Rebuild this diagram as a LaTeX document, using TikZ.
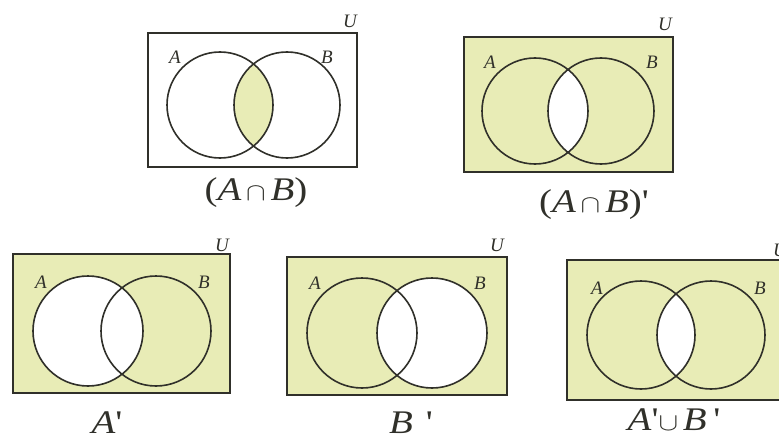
\documentclass[tikz,border=0pt]{standalone}
\usepackage{fontspec}
\setmainfont{Liberation Serif}
\definecolor{venn}{HTML}{E8ECB6}
\definecolor{ink}{HTML}{30302A}
\newcommand{\pr}{{\upshape\textquotesingle}}
\newcommand{\wide}[1]{\scalebox{1.18}[1]{#1}}
\begin{document}
\begin{tikzpicture}[x=1pt,y=-1pt,
  border/.style={draw=ink,line width=1.1pt},
  ring/.style={draw=ink,line width=1.6pt},
  setlabel/.style={text=ink,font=\fontsize{19}{19}\selectfont\itshape,inner sep=0pt},
  caption/.style={text=ink,font=\fontsize{33}{33}\selectfont\itshape,inner sep=0pt}]
\useasboundingbox (0,0) rectangle (779,441);
\clip (0,0) rectangle (779,441);
% ---------- 1: A cap B
\coordinate (a1) at (220,105); \coordinate (b1) at (287,105);
\fill[white] (148,33) rectangle (357,167);
\begin{scope}\clip (a1) circle[radius=53]; \fill[venn] (b1) circle[radius=53];\end{scope}
\draw[border] (148,33) rectangle (357,167);
\draw[ring] (a1) circle[radius=53] (b1) circle[radius=53];
\node[setlabel] (la1) at (175,57) {A};
\node[setlabel] (lb1) at (327,57) {B};
\node[setlabel] (lu1) at (350,21) {U};
\node[caption] (c1) at (256,193) {\wide{{\upshape(}A$\,\cap\,$B{\upshape)}}};
% ---------- 2: (A cap B)'
\coordinate (a2) at (535,111); \coordinate (b2) at (601,111);
\fill[venn] (464,37) rectangle (673,172);
\begin{scope}\clip (a2) circle[radius=53]; \fill[white] (b2) circle[radius=53];\end{scope}
\draw[border] (464,37) rectangle (673,172);
\draw[ring] (a2) circle[radius=53] (b2) circle[radius=53];
\node[setlabel] (la2) at (490,62) {A};
\node[setlabel] (lb2) at (652,62) {B};
\node[setlabel] (lu2) at (665,24) {U};
\node[caption] (c2) at (594,205) {\wide{{\upshape(}A$\,\cap\,$B{\upshape)}\pr}};
% ---------- 3: A'
\coordinate (a3) at (88,331); \coordinate (b3) at (156,331);
\fill[venn] (13,254) rectangle (230,393);
\fill[white] (a3) circle[radius=55];
\draw[border] (13,254) rectangle (230,393);
\draw[ring] (a3) circle[radius=55] (b3) circle[radius=55];
\node[setlabel] (la3) at (41,282) {A};
\node[setlabel] (lb3) at (204,282) {B};
\node[setlabel] (lu3) at (222,245) {U};
\node[caption] (c3) at (107,423) {\wide{A\pr}};
% ---------- 4: B'
\coordinate (a4) at (362,333); \coordinate (b4) at (432,333);
\fill[venn] (287,257) rectangle (507,395);
\fill[white] (b4) circle[radius=55];
\draw[border] (287,257) rectangle (507,395);
\draw[ring] (a4) circle[radius=55] (b4) circle[radius=55];
\node[setlabel] (la4) at (315,283) {A};
\node[setlabel] (lb4) at (480,283) {B};
\node[setlabel] (lu4) at (497,245) {U};
\node[caption] (c4) at (411,423) {\wide{B\,\,\pr}};
% ---------- 5: A' cup B'
\coordinate (a5) at (641,335); \coordinate (b5) at (711,335);
\fill[venn] (567,260) rectangle (792,400);
\begin{scope}\clip (a5) circle[radius=54]; \fill[white] (b5) circle[radius=54];\end{scope}
\draw[border] (567,260) rectangle (792,400);
\draw[ring] (a5) circle[radius=54] (b5) circle[radius=54];
\node[setlabel] (la5) at (597,288) {A};
\node[setlabel] (lb5) at (760,288) {B};
\node[setlabel] (lu5) at (780,250) {U};
\node[caption] (c5) at (674,420) {\wide{A\pr$\cup\,$B\,\pr}};
\end{tikzpicture}
\end{document}
